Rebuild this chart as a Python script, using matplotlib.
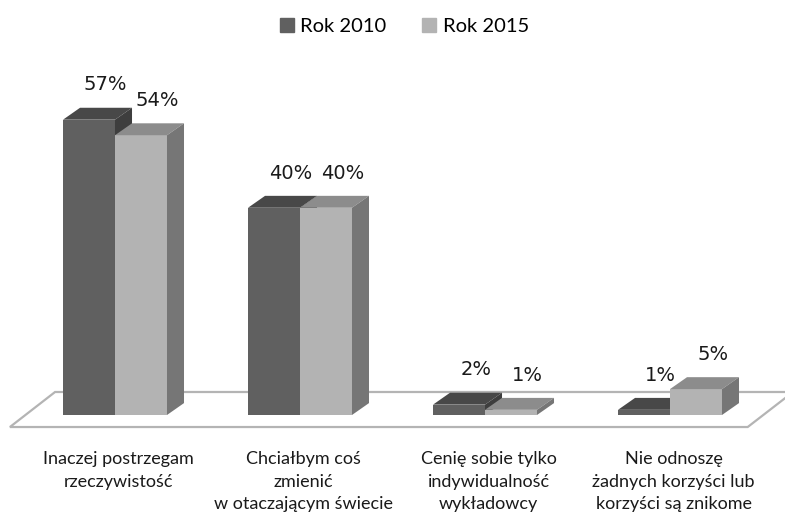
import matplotlib.pyplot as plt
from matplotlib.patches import Polygon, Patch

categories = ["Inaczej postrzegam\nrzeczywistość",
              "Chciałbym coś\nzmienić\nw otaczającym świecie",
              "Cenię sobie tylko\nindywidualność\nwykładowcy",
              "Nie odnoszę\nżadnych korzyści lub\nkorzyści są znikome"]
series_names = ["Rok 2010", "Rok 2015"]
values_2010 = [57, 40, 2, 1]
values_2015 = [54, 40, 1, 5]

# colours: front, top, side
colors_2010 = ("#606060", "#484848", "#3e3e3e")
colors_2015 = ("#b3b3b3", "#8c8c8c", "#767676")

bar_w = 0.281      # group spacing = 1
dx, dy = 0.092, 2.3  # 3d depth offset in data units

fig = plt.figure(figsize=(7.85, 5.18), dpi=100)
ax = fig.add_axes([0, 0, 1, 1])
ax.set_xlim(-0.6216, 3.6216)
ax.set_ylim(-19.88, 80.1)
ax.axis("off")

# floor
floor_front, floor_back = -2.32, 4.44
fl = Polygon([(-0.568, floor_front), (3.42, floor_front),
              (3.42 + 0.245, floor_back), (-0.324, floor_back)],
             closed=True, facecolor="white", edgecolor="#b4b4b4", lw=1.6, zorder=1)
ax.add_patch(fl)


def draw_bar(x0, h, cols):
    front, top, side = cols
    ax.bar(x0, h, width=bar_w, align="edge", color=front, zorder=3)
    x1 = x0 + bar_w
    ax.add_patch(Polygon([(x0, h), (x1, h), (x1 + dx, h + dy), (x0 + dx, h + dy)],
                         closed=True, facecolor=top, edgecolor="none", zorder=3))
    ax.add_patch(Polygon([(x1, 0), (x1 + dx, dy), (x1 + dx, h + dy), (x1, h)],
                         closed=True, facecolor=side, edgecolor="none", zorder=3))


for i in range(len(categories)):
    for j, (vals, cols) in enumerate([(values_2010, colors_2010), (values_2015, colors_2015)]):
        x0 = i - bar_w + j * bar_w
        draw_bar(x0, vals[i], cols)
        ax.text(x0 + bar_w / 2 + 0.09, vals[i] + dy + 4.4, f"{vals[i]}%",
                ha="center", va="center", fontsize=14, family="DejaVu Sans",
                color="#1a1a1a", zorder=5)
    ax.text(i + 0.02, -7.0, categories[i], ha="center", va="top", fontsize=13,
            family="Lato", linespacing=1.5, color="#1a1a1a")

handles = [Patch(color=colors_2010[0]), Patch(color=colors_2015[0])]
fig.legend(handles, series_names, loc="upper center", bbox_to_anchor=(0.515, 1.0),
           ncol=2, frameon=False, prop={"family": "Lato", "size": 14.5},
           handlelength=0.7, handleheight=0.7, handletextpad=0.3, columnspacing=1.8)

fig.savefig("out.png", dpi=100)
